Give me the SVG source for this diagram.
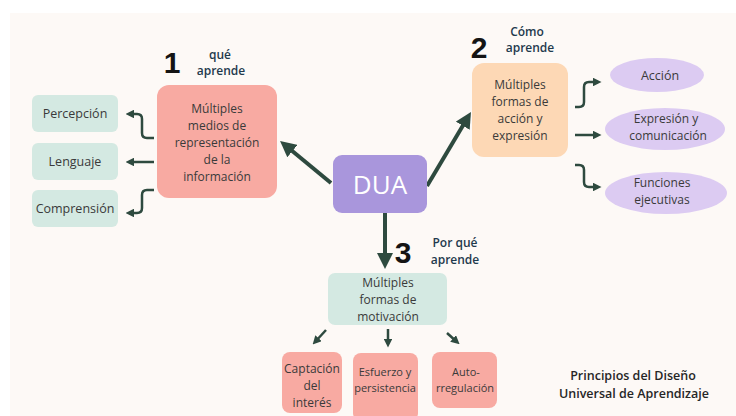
<svg xmlns="http://www.w3.org/2000/svg" width="736" height="416" viewBox="0 0 736 416">
<defs>
<style>
.t{font-family:"Open Sans","DejaVu Sans",sans-serif;font-size:12px;fill:#3a3a3a;text-anchor:middle}
.b{font-size:12.5px}
.s{font-size:11px}
.lab{font-family:"Open Sans","DejaVu Sans",sans-serif;font-size:12px;font-weight:600;fill:#1f3a4d;text-anchor:middle}
.num{font-family:"Liberation Sans Narrow","Liberation Sans",sans-serif;font-weight:bold;font-size:30px;fill:#141414;text-anchor:middle}
.pink{fill:#f8aaa2}
.teal{fill:#d4e9e2}
.lav{fill:#dccbf2}
.thick{fill:none;stroke:#2e4a3f;stroke-width:4;marker-end:url(#hb)}
.thin{fill:none;stroke:#2e4a3f;stroke-width:2.5;stroke-linejoin:round;marker-end:url(#hs)}
</style>
<marker id="hb" viewBox="0 0 10 10" refX="6" refY="5" markerWidth="4" markerHeight="4" orient="auto" markerUnits="strokeWidth"><path d="M0,0 L10,5 L0,10 z" fill="#2e4a3f"/></marker>
<marker id="hs" viewBox="0 0 10 10" refX="6" refY="5" markerWidth="3.5" markerHeight="3.5" orient="auto" markerUnits="strokeWidth"><path d="M0,0 L10,5 L0,10 z" fill="#2e4a3f"/></marker>
</defs>
<rect width="736" height="416" fill="#ffffff"/>
<rect x="10" y="13" width="726" height="403" fill="#fdf9f6"/>

<g id="connectors">
<path class="thick" d="M331,183 L285,145"/>
<path class="thick" d="M427,186 L467.7,117.5"/>
<path class="thick" d="M385,213 L385,262.6"/>
<path class="thin" d="M154,138 H147 Q142,138 142,133 V119 Q142,114 137,114 H129"/>
<path class="thin" d="M154,162 H129"/>
<path class="thin" d="M154,190 H147 Q142,190 142,195 V208 Q142,213 137,213 H129"/>
<path class="thin" d="M575,107 H579 Q584,107 584,102 V87 Q584,82 589,82 H598"/>
<path class="thin" d="M575,135 H598"/>
<path class="thin" d="M575,165 H579 Q584,165 584,170 V182 Q584,187 589,187 H598"/>
<path class="thin" d="M326,330 L315,342"/>
<path class="thin" d="M388,329 V344"/>
<path class="thin" d="M447,333 L457,342"/>
</g>

<g id="dua">
<rect x="333" y="155" width="94" height="58" rx="9" fill="#a996dc"/>
<text x="380" y="194" style="font-family:'Open Sans','DejaVu Sans',sans-serif;font-size:26px;fill:#ffffff;text-anchor:middle">DUA</text>
</g>

<g id="label1">
<text class="num" x="172" y="73">1</text>
<text class="lab" x="220" y="59">qué</text>
<text class="lab" x="221" y="75">aprende</text>
</g>

<g id="representacion">
<rect class="pink" x="157" y="85" width="120" height="113" rx="12"/>
<text class="t" x="217" y="113">Múltiples</text>
<text class="t" x="217" y="130">medios de</text>
<text class="t" x="217" y="147">representación</text>
<text class="t" x="217" y="164">de la</text>
<text class="t" x="217" y="181">información</text>
</g>

<g id="percepcion">
<rect class="teal" x="32" y="95" width="86" height="37" rx="6"/>
<text class="t b" x="75" y="118">Percepción</text>
</g>
<g id="lenguaje">
<rect class="teal" x="32" y="143" width="86" height="37" rx="6"/>
<text class="t b" x="75" y="166">Lenguaje</text>
</g>
<g id="comprension">
<rect class="teal" x="32" y="190" width="86" height="37" rx="6"/>
<text class="t b" x="75" y="213">Comprensión</text>
</g>

<g id="label2">
<text class="num" x="479" y="58">2</text>
<text class="lab" x="527" y="36">Cómo</text>
<text class="lab" x="530" y="52">aprende</text>
</g>

<g id="accion-expresion">
<rect fill="#fdd8b5" x="472" y="63" width="96" height="94" rx="12"/>
<text class="t" x="520" y="89">Múltiples</text>
<text class="t" x="520" y="106">formas de</text>
<text class="t" x="520" y="123">acción y</text>
<text class="t" x="520" y="140">expresión</text>
</g>

<g id="accion">
<ellipse class="lav" cx="657" cy="75" rx="47" ry="17"/>
<text class="t b" x="660" y="80">Acción</text>
</g>
<g id="expresion">
<ellipse class="lav" cx="665" cy="129" rx="60" ry="21"/>
<text class="t" x="666" y="123">Expresión y</text>
<text class="t" x="668" y="140">comunicación</text>
</g>
<g id="funciones">
<ellipse class="lav" cx="666" cy="193" rx="61" ry="21"/>
<text class="t" x="662" y="187">Funciones</text>
<text class="t" x="662" y="204">ejecutivas</text>
</g>

<g id="label3">
<text class="num" x="403" y="263">3</text>
<text class="lab" x="455" y="247">Por qué</text>
<text class="lab" x="455" y="264">aprende</text>
</g>

<g id="motivacion">
<rect class="teal" x="328" y="273" width="119" height="52" rx="7"/>
<text class="t" x="388" y="287">Múltiples</text>
<text class="t" x="388" y="304">formas de</text>
<text class="t" x="388" y="321">motivación</text>
</g>

<g id="captacion">
<rect class="pink" x="282" y="352" width="60" height="61" rx="8"/>
<text class="t" x="312" y="373">Captación</text>
<text class="t" x="312" y="390">del</text>
<text class="t" x="312" y="407">interés</text>
</g>
<g id="esfuerzo">
<rect class="pink" x="353" y="353" width="65" height="68" rx="8"/>
<text class="t s" x="385" y="376">Esfuerzo y</text>
<text class="t s" x="385" y="392">persistencia</text>
</g>
<g id="autorregulacion">
<rect class="pink" x="432" y="352" width="65" height="56" rx="8"/>
<text class="t s" x="466" y="376">Auto-</text>
<text class="t s" x="465" y="392">rregulación</text>
</g>

<g id="titulo">
<text class="t" x="633" y="380" style="font-size:12.5px;font-weight:600;fill:#262626">Principios del Diseño</text>
<text class="t" x="634" y="398" style="font-size:12.5px;font-weight:600;fill:#262626">Universal de Aprendizaje</text>
</g>
</svg>
